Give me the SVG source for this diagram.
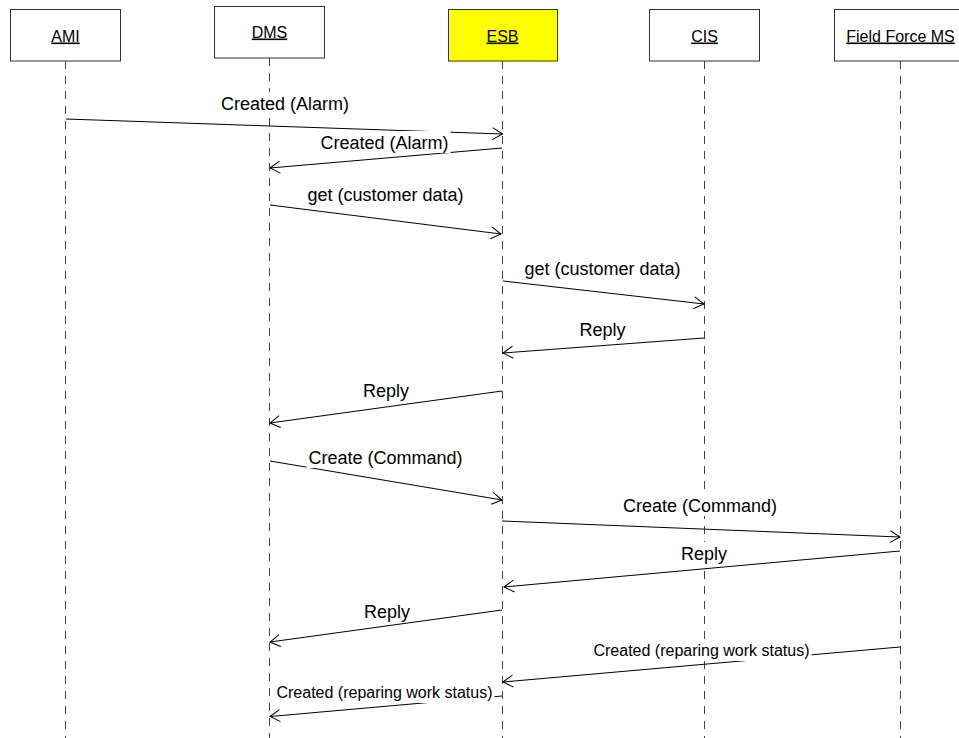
<svg xmlns="http://www.w3.org/2000/svg" width="959" height="738" viewBox="0 0 959 738">
  <style>
    .head { fill: #ffffff; stroke: #333333; stroke-width: 1; }
    .head.bus { fill: #ffff00; }
    .htext { font-family: "Liberation Sans", Arial, sans-serif; font-size: 16px; fill: #000; text-anchor: middle; text-decoration: underline; }
    .life { stroke: #444444; stroke-width: 1; stroke-dasharray: 8 7; fill: none; }
    .msg { stroke: #000; stroke-width: 1; fill: none; marker-end: url(#open); }
    .lbg { fill: #ffffff; stroke: none; }
    .lbl { font-family: "Liberation Sans", Arial, sans-serif; font-size: 18px; fill: #000; text-anchor: middle; }
    .lbl.small { font-size: 16px; }
  </style>
  <defs>
    <marker id="open" markerUnits="userSpaceOnUse" markerWidth="14" markerHeight="16" viewBox="-12 -8 14 16" refX="0" refY="0" orient="auto">
      <path d="M-10,-6 L0,0 L-10,6" fill="none" stroke="#000" stroke-width="1"/>
    </marker>
  </defs>

  <rect width="959" height="738" fill="#ffffff"/>

  <!-- lifelines -->
  <g id="lifelines">
    <line class="life" x1="65.5" y1="61" x2="65.5" y2="738"/>
    <line class="life" x1="269.5" y1="58" x2="269.5" y2="738"/>
    <line class="life" x1="502.5" y1="61" x2="502.5" y2="738"/>
    <line class="life" x1="704.5" y1="61" x2="704.5" y2="738"/>
    <line class="life" x1="900.5" y1="61" x2="900.5" y2="738"/>
  </g>

  <!-- participants -->
  <g id="ami">
    <rect class="head" x="10.5" y="9.5" width="110" height="51.5"/>
    <text class="htext" x="65.5" y="41.5">AMI</text>
  </g>
  <g id="dms">
    <rect class="head" x="214.5" y="6.5" width="110" height="51.5"/>
    <text class="htext" x="269.5" y="37.5">DMS</text>
  </g>
  <g id="esb">
    <rect class="head bus" x="448.5" y="9.5" width="109" height="51.5"/>
    <text class="htext" x="502.5" y="41.5">ESB</text>
  </g>
  <g id="cis">
    <rect class="head" x="649.5" y="9.5" width="110" height="51.5"/>
    <text class="htext" x="704.5" y="41.5">CIS</text>
  </g>
  <g id="ffms">
    <rect class="head" x="834.5" y="9.5" width="132" height="51.5"/>
    <text class="htext" x="900.5" y="41.5">Field Force MS</text>
  </g>

  <!-- messages -->
  <g id="connectors">
    <line class="msg" x1="66" y1="119" x2="502.5" y2="134"/>
    <line class="msg" x1="502" y1="148" x2="270" y2="168"/>
    <line class="msg" x1="270" y1="205" x2="501" y2="234"/>
    <line class="msg" x1="503" y1="281" x2="704" y2="304"/>
    <line class="msg" x1="704" y1="338" x2="503" y2="353"/>
    <line class="msg" x1="502" y1="391" x2="270" y2="423"/>
    <line class="msg" x1="270" y1="461" x2="502" y2="500"/>
    <line class="msg" x1="502" y1="521" x2="900" y2="537"/>
    <line class="msg" x1="900" y1="551" x2="504" y2="587"/>
    <line class="msg" x1="502" y1="610" x2="270" y2="642"/>
    <line class="msg" x1="900" y1="647" x2="503" y2="682"/>
    <line class="msg" x1="502" y1="696" x2="270" y2="716.5"/>
  </g>

  <!-- message labels (white backing hides the lines beneath) -->
  <g id="labels">
    <rect class="lbg" x="219" y="92" width="132" height="22"/>
    <text class="lbl" x="285" y="110">Created (Alarm)</text>

    <rect class="lbg" x="318.5" y="131" width="132" height="22"/>
    <text class="lbl" x="384.5" y="149">Created (Alarm)</text>

    <rect class="lbg" x="305.5" y="183" width="160" height="22"/>
    <text class="lbl" x="385.5" y="201">get (customer data)</text>

    <rect class="lbg" x="522.5" y="257" width="160" height="22"/>
    <text class="lbl" x="602.5" y="275">get (customer data)</text>

    <rect class="lbg" x="577.5" y="318" width="50" height="22"/>
    <text class="lbl" x="602.5" y="336">Reply</text>

    <rect class="lbg" x="361" y="379" width="50" height="22"/>
    <text class="lbl" x="386" y="397">Reply</text>

    <rect class="lbg" x="306.5" y="446" width="158" height="22"/>
    <text class="lbl" x="385.5" y="464">Create (Command)</text>

    <rect class="lbg" x="621" y="494" width="158" height="22"/>
    <text class="lbl" x="700" y="512">Create (Command)</text>

    <rect class="lbg" x="679" y="542" width="50" height="22"/>
    <text class="lbl" x="704" y="560">Reply</text>

    <rect class="lbg" x="362" y="600" width="50" height="22"/>
    <text class="lbl" x="387" y="618">Reply</text>

    <rect class="lbg" x="591.5" y="641" width="220" height="20"/>
    <text class="lbl small" x="701.5" y="656">Created (reparing work status)</text>

    <rect class="lbg" x="274.5" y="683" width="220" height="20"/>
    <text class="lbl small" x="384.5" y="698">Created (reparing work status)</text>
  </g>
</svg>
